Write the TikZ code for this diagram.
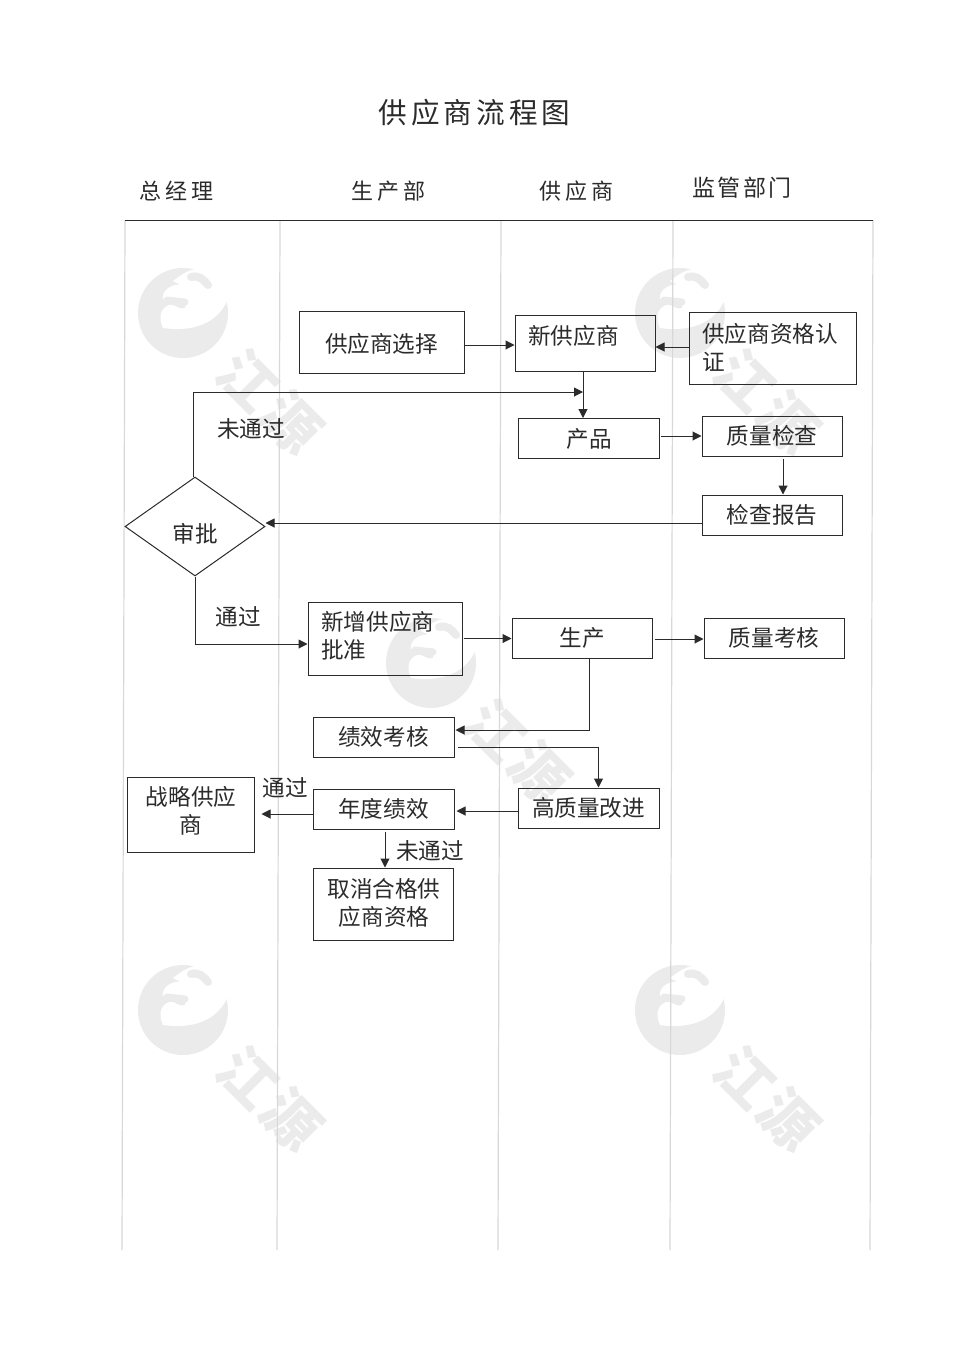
\documentclass[tikz,border=0pt]{standalone}
\usepackage{fontspec}
\usetikzlibrary{arrows.meta,shapes.geometric}
\setmainfont{Noto Sans CJK SC}
\newfontfamily\titlefont[LetterSpace=14]{Noto Sans CJK SC}
\newfontfamily\headfont[LetterSpace=18]{Noto Sans CJK SC}
\newfontfamily\headfontb[LetterSpace=10]{Noto Sans CJK SC}
\definecolor{wmgray}{HTML}{EBEBEB}
\definecolor{lanegray}{HTML}{D8D8D8}
\definecolor{ink}{HTML}{2B2B2B}
\tikzset{
  boxnode/.style={draw=ink,line width=1pt,inner sep=0pt,font=\fontsize{22.6}{28}\selectfont,text=ink},
  lefttext/.style={align=left,text=ink,font=\fontsize{22.6}{28}\selectfont,inner sep=0pt,anchor=west},
  centertext/.style={align=center,text=ink,font=\fontsize{22.6}{28}\selectfont,inner sep=0pt},
  conn/.style={draw=ink,line width=1pt,-{Triangle[length=9pt,width=9pt]}},
  lane/.style={draw=lanegray,line width=1.2pt},
  wmtext/.style={text=wmgray,font=\fontsize{57}{57}\bfseries\selectfont,rotate=-45,inner sep=0pt}
}
\newcommand{\wmark}[3]{%
  \begin{scope}[shift={(#2,#3)}]
    \fill[wmgray] (0,0) circle[radius=45];
    \fill[white] (44,-12) .. controls (36,6) and (16,20) .. (-20,15)
      .. controls (-24,6) and (-24,-4) .. (-14,-8)
      .. controls (-8,-10) and (-4,-2) .. (2,-5)
      -- (4,-14) -- (-20,-14) .. controls (-22,-24) and (-8,-30) .. (-2,-28)
      -- (-10,-32) .. controls (0,-40) and (8,-44) .. (14,-44)
      -- (50,-30) -- cycle;
    \draw[wmgray,line width=8pt,line cap=round] (8,-36) .. controls (16,-38) and (20,-34) .. (25,-28);
    \draw[wmgray,line width=7pt,line cap=round] (-16,-13) -- (2,-11);
    \node[wmtext] (wm#1a) at (65,67) {江};
    \node[wmtext] (wm#1b) at (109,110) {源};
  \end{scope}}
\begin{document}
\begin{tikzpicture}[x=1pt,y=-1pt]
\useasboundingbox (0,0) rectangle (970,1371);
\fill[white] (0,0) rectangle (970,1371);
\wmark{p}{183}{313}
\wmark{q}{680}{313}
\wmark{r}{431}{663}
\wmark{s}{183}{1010}
\wmark{t}{680}{1010}
% lanes
\coordinate (la) at (125,220); \coordinate (lA) at (122,1250);
\coordinate (lb) at (280,220); \coordinate (lB) at (277,1250);
\coordinate (lc) at (501,220); \coordinate (lC) at (498,1250);
\coordinate (ld) at (673,220); \coordinate (lD) at (670,1250);
\coordinate (le) at (873,220); \coordinate (lE) at (870,1250);
\draw[lane] (la)--(lA); \draw[lane] (lb)--(lB); \draw[lane] (lc)--(lC);
\draw[lane] (ld)--(lD); \draw[lane] (le)--(lE);
\draw[ink,line width=1pt] (la) -- (le);
% headers
\node[text=ink,inner sep=0pt] (title) at (474.5,113) {\titlefont\fontsize{28.6}{30}\selectfont 供应商流程图};
\node[text=ink,inner sep=0pt] (h1) at (176.5,191) {\headfont\fontsize{22}{24}\selectfont 总经理};
\node[text=ink,inner sep=0pt] (h2) at (388.5,191) {\headfont\fontsize{22}{24}\selectfont 生产部};
\node[text=ink,inner sep=0pt] (h3) at (576.5,191) {\headfont\fontsize{22}{24}\selectfont 供应商};
\node[text=ink,inner sep=0pt] (h4) at (742,188) {\headfontb\fontsize{23}{24}\selectfont 监管部门};
% boxes
\node[boxnode,minimum width=165pt,minimum height=62pt] (sel) at (381.5,342) {};
\node[centertext] (selt) at (381.5,344) {供应商选择};
\node[boxnode,minimum width=140pt,minimum height=56pt] (new) at (585,343) {};
\node[lefttext] (newt) at (528,336) {新供应商};
\node[boxnode,minimum width=167pt,minimum height=72pt] (cert) at (772.5,348) {};
\node[lefttext] (certt) at (702,347) {供应商资格认\\证};
\node[boxnode,minimum width=141pt,minimum height=40pt] (prod) at (588.5,438.5) {};
\node[centertext] (prodt) at (589,439) {产品};
\node[boxnode,minimum width=140pt,minimum height=40pt] (qc) at (772,436) {质量检查};
\node[boxnode,minimum width=140pt,minimum height=40pt] (rep) at (772,515) {检查报告};
\node[draw=ink,line width=1pt,diamond,aspect=1.41,inner sep=0pt,minimum width=140pt,minimum height=99pt] (dec) at (195,526.5) {};
\node[centertext] (dect) at (195,534) {审批};
\node[boxnode,minimum width=154pt,minimum height=73pt] (add) at (385,638.5) {};
\node[lefttext] (addt) at (321,636) {新增供应商\\批准};
\node[boxnode,minimum width=140pt,minimum height=40pt] (make) at (582,638) {生产};
\node[boxnode,minimum width=140pt,minimum height=40pt] (qa) at (774,638) {质量考核};
\node[boxnode,minimum width=141pt,minimum height=40pt] (perf) at (383.5,737) {绩效考核};
\node[boxnode,minimum width=141pt,minimum height=40pt] (imp) at (588.5,808) {高质量改进};
\node[boxnode,minimum width=141pt,minimum height=40pt] (year) at (383.5,809) {年度绩效};
\node[boxnode,minimum width=127pt,minimum height=75pt] (strat) at (190.5,814.5) {};
\node[centertext] (stratt) at (191,811) {战略供应\\商};
\node[boxnode,minimum width=140pt,minimum height=72pt] (cancel) at (383.5,904) {};
\node[centertext] (cancelt) at (384,903) {取消合格供\\应商资格};
% labels
\node[centertext] (l1) at (251,429) {未通过};
\node[centertext] (l2) at (238,617) {通过};
\node[centertext] (l3) at (285,788) {通过};
\node[centertext] (l4) at (430,851) {未通过};
% connectors
\draw[conn] ([yshift=-3pt,xshift=-1pt]sel.east) -- ([yshift=-3pt]sel.east -| new.west);
\draw[conn] ([yshift=1pt]cert.west) -- ([yshift=1pt]cert.west -| new.east);
\draw[conn] ([xshift=-2pt]new.south) -- ([xshift=-2pt]new.south |- prod.north);
\coordinate (backin) at (583,392);
\draw[conn] ([xshift=-2pt]dec.north) |- (backin);
\draw[conn] ([yshift=2.5pt,xshift=1pt]prod.east) -- ([yshift=2.5pt]prod.east -| qc.west);
\draw[conn] ([xshift=11pt,yshift=-2pt]qc.south) -- ([xshift=11pt]qc.south |- rep.north);
\draw[conn] ([yshift=-8pt]rep.west) -- ([yshift=-8pt]rep.west -| dec.east);
\draw[conn] (dec.south) |- ([yshift=-5.5pt]add.west);
\draw[conn] ([xshift=1pt]add.east) -- (make.west |- add.east);
\draw[conn] ([xshift=2pt,yshift=-1pt]make.east) -- ([yshift=-1pt]qa.west);
\draw[conn] ([xshift=7pt]make.south) |- ([xshift=1pt,yshift=7pt]perf.east);
\draw[conn] ([xshift=3pt,yshift=-10pt]perf.east) -| ([xshift=10pt]imp.north);
\draw[conn] ([yshift=-3pt]imp.west) -- ([xshift=2pt,yshift=-3pt]imp.west -| year.east);
\draw[conn] ([yshift=-5pt]year.west) -- ([xshift=7pt,yshift=-5pt]year.west -| strat.east);
\draw[conn] ([xshift=1.5pt,yshift=-2pt]year.south) -- ([xshift=1.5pt]year.south |- cancel.north);
\end{tikzpicture}
\end{document}
